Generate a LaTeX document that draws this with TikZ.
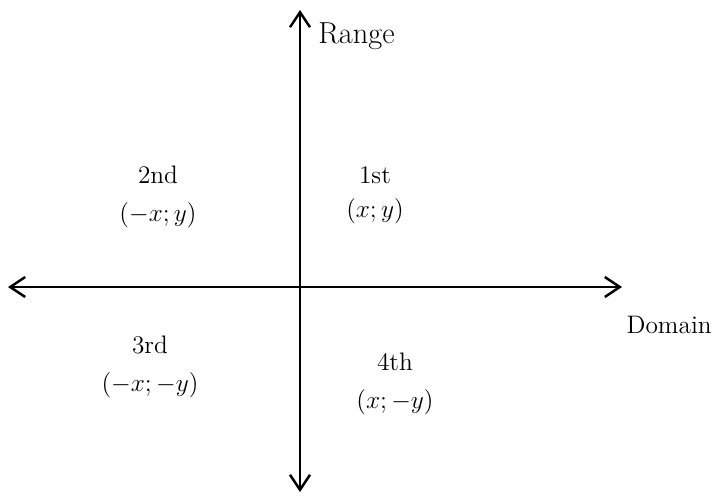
\documentclass[tikz,border=0pt]{standalone}
\usepackage{tikz}
\usetikzlibrary{arrows.meta,positioning}

\begin{document}
\begin{tikzpicture}[
  x=0.02cm,y=-0.02cm,
  font=\Large,
  >={Straight Barb[length=3mm,width=4mm]},
  axis/.style={<->,line width=1.4pt,black},
  qlabel/.style={align=center,inner sep=1pt},
  alabel/.style={inner sep=0pt}
]
\useasboundingbox (0,0) rectangle (714,497);

% axes
\coordinate (xl) at (8,287);
\coordinate (xr) at (622,287);
\coordinate (yt) at (300,10);
\coordinate (yb) at (300,492);
\draw[axis] (xl) -- (xr);
\draw[axis] (yb) -- (yt);

% axis names
\node[alabel,anchor=west,font=\LARGE] (range) at (318,36) {Range};
\node[alabel,anchor=east] (domain) at (712,325) {Domain};

% quadrants
\node[qlabel] (q2) at (158,175) {2nd};
\node[qlabel,below=8pt of q2] (c2) {$(-x;y)$};
\node[qlabel] (q1) at (375,175) {1st};
\node[qlabel,below=6pt of q1] (c1) {$(x;y)$};
\node[qlabel] (q3) at (150,345) {3rd};
\node[qlabel,below=8pt of q3] (c3) {$(-x;-y)$};
\node[qlabel] (q4) at (395,362) {4th};
\node[qlabel,below=8pt of q4] (c4) {$(x;-y)$};

\end{tikzpicture}
\end{document}
